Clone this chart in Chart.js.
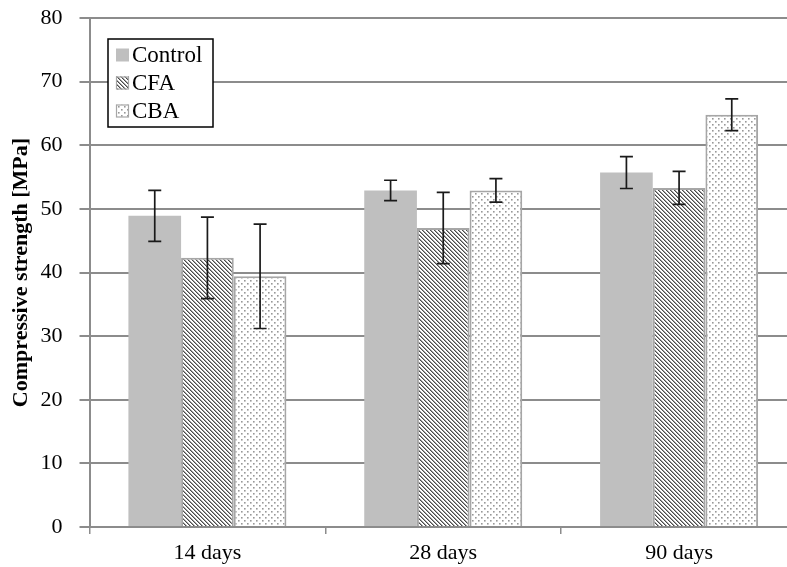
<!DOCTYPE html>
<html>
<head>
<meta charset="utf-8">
<script src="https://cdn.jsdelivr.net/npm/chart.js@4.4.0/dist/chart.umd.min.js"></script>
<style>
  html, body { margin: 0; padding: 0; background: #fff; overflow: hidden; }
  #wrap { width: 800px; height: 567px; }
</style>
</head>
<body>
<div id="wrap"><canvas id="chart" width="800" height="567"></canvas></div>
<script>
// data
const categories = ['14 days', '28 days', '90 days'];
const seriesNames = ['Control', 'CFA', 'CBA'];
const controlVals = [48.9, 52.9, 55.7];
const cfaVals = [42.3, 47.0, 53.3];
const cbaVals = [39.4, 52.9, 64.8];
// error bar half-lengths
const controlErr = [4.0, 1.6, 2.5];
const cfaErr = [6.4, 5.6, 2.6];
const cbaErr = [8.2, 1.85, 2.5];
const yTicks = [0, 10, 20, 30, 40, 50, 60, 70, 80];

const FONT = 'Liberation Serif, Times New Roman, serif';
const GRID = '#8c8c8c';

// fill patterns
function hatchPattern() {
    const c = document.createElement('canvas');
    c.width = 4; c.height = 4;
    const g = c.getContext('2d');
    g.fillStyle = '#ffffff';
    g.fillRect(0, 0, 4, 4);
    g.fillStyle = '#4a4a4a';
    for (let i = 0; i < 4; i++) g.fillRect(i, i, 1, 1);
    g.fillStyle = '#a0a0a0';
    for (let i = 0; i < 4; i++) g.fillRect((i + 1) % 4, i, 1, 1);
    return g.createPattern(c, 'repeat');
}
function dotPattern() {
    const c = document.createElement('canvas');
    c.width = 6; c.height = 6;
    const g = c.getContext('2d');
    g.fillStyle = '#ffffff';
    g.fillRect(0, 0, 6, 6);
    g.fillStyle = '#989898';
    g.fillRect(1, 1, 1.6, 1.6);
    g.fillRect(4, 4, 1.6, 1.6);
    return g.createPattern(c, 'repeat');
}
const fills = ['#bfbfbf', hatchPattern(), dotPattern()];
const borders = ['#bfbfbf', '#a6a6a6', '#a6a6a6'];
const errs = [controlErr, cfaErr, cbaErr];

// error bars drawn from the bar elements and the y scale
const errorBars = {
    id: 'errorBars',
    afterDatasetsDraw(chart) {
        const ctx = chart.ctx;
        const y = chart.scales.y;
        ctx.save();
        ctx.strokeStyle = '#1a1a1a';
        ctx.lineWidth = 1.7;
        chart.data.datasets.forEach((ds, i) => {
            const meta = chart.getDatasetMeta(i);
            meta.data.forEach((bar, j) => {
                const v = ds.data[j], e = errs[i][j];
                const yHi = y.getPixelForValue(v + e);
                const yLo = y.getPixelForValue(v - e);
                const x = bar.x;
                ctx.beginPath();
                ctx.moveTo(x, yHi); ctx.lineTo(x, yLo);
                ctx.moveTo(x - 6.5, yHi); ctx.lineTo(x + 6.5, yHi);
                ctx.moveTo(x - 6.5, yLo); ctx.lineTo(x + 6.5, yLo);
                ctx.stroke();
            });
        });
        ctx.restore();
    }
};

// boxed legend in the top-left corner of the plot
const boxLegend = {
    id: 'boxLegend',
    afterDraw(chart) {
        const ctx = chart.ctx;
        ctx.save();
        ctx.fillStyle = '#ffffff';
        ctx.fillRect(108, 39, 105, 88);
        ctx.strokeStyle = '#000';
        ctx.lineWidth = 1.5;
        ctx.strokeRect(108, 39, 105, 88);
        const rows = [55, 83, 111];
        ctx.font = '23px ' + FONT;
        ctx.textBaseline = 'middle';
        seriesNames.forEach((name, i) => {
            ctx.fillStyle = fills[i];
            ctx.fillRect(116, rows[i] - 6.5, 13, 13);
            if (i > 0) {
                ctx.strokeStyle = borders[i];
                ctx.lineWidth = 1.2;
                ctx.strokeRect(116.5, rows[i] - 6, 12, 12);
            }
            ctx.fillStyle = '#000';
            ctx.fillText(name, 132, rows[i] + 1);
        });
        ctx.restore();
    }
};

new Chart(document.getElementById('chart'), {
    type: 'bar',
    data: {
        labels: categories,
        datasets: [controlVals, cfaVals, cbaVals].map((vals, i) => ({
            label: seriesNames[i],
            data: vals,
            backgroundColor: fills[i],
            borderColor: borders[i],
            borderWidth: i === 0 ? 0 : 2,
            categoryPercentage: 0.67,
            barPercentage: 1
        }))
    },
    options: {
        responsive: false,
        animation: false,
        layout: { padding: { top: 18, right: 3, left: 0, bottom: 0 } },
        plugins: { legend: { display: false }, tooltip: { enabled: false } },
        scales: {
            x: {
                afterFit(s) { s.height = 40; s.paddingLeft = 0; s.paddingRight = 0; },
                grid: { drawOnChartArea: false, drawTicks: true, tickLength: 7, color: GRID, lineWidth: 1.5 },
                border: { color: GRID, width: 2 },
                ticks: { color: '#000', font: { family: FONT, size: 22 }, padding: 6 }
            },
            y: {
                min: 0, max: 80,
                afterFit(s) { s.width = 89.5; s.paddingTop = 0; s.paddingBottom = 0; },
                afterBuildTicks(s) { s.ticks = yTicks.map(v => ({ value: v })); },
                grid: { color: GRID, lineWidth: 2, tickLength: 10 },
                border: { color: GRID, width: 2 },
                ticks: { color: '#000', font: { family: FONT, size: 22 }, padding: 17 },
                title: {
                    display: true,
                    text: 'Compressive strength [MPa]',
                    color: '#000',
                    font: { family: FONT, size: 22, weight: 'bold' },
                    padding: { top: 8, bottom: 0 }
                }
            }
        }
    },
    plugins: [errorBars, boxLegend]
});
</script>
</body>
</html>
